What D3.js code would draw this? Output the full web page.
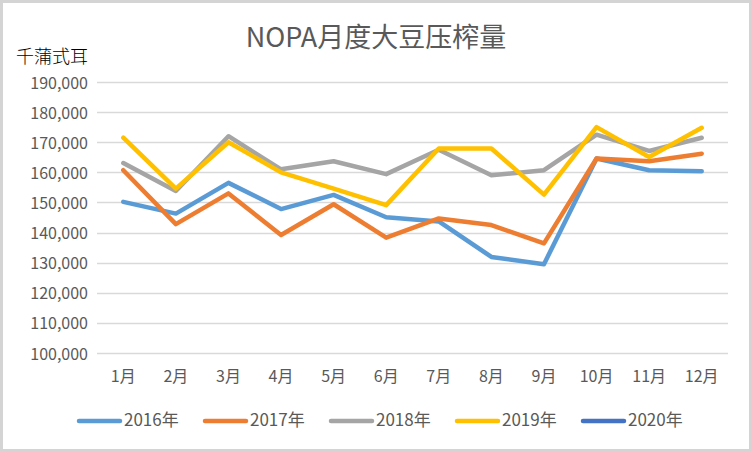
<!DOCTYPE html>
<html><head><meta charset="utf-8">
<script src="https://cdn.jsdelivr.net/npm/d3@7"></script>
<style>html,body{margin:0;padding:0;background:#fff;}svg{display:block;}</style>
</head><body>
<svg id="chart" width="752" height="452"></svg>
<script>
const months = ["1月","2月","3月","4月","5月","6月","7月","8月","9月","10月","11月","12月"];
const seriesNames = ["2016年","2017年","2018年","2019年","2020年"];
const seriesColors = ["#5B9BD5","#ED7D31","#A5A5A5","#FFC000","#4472C4"];
const s2016 = [150200,146300,156500,147800,152500,145100,143700,131900,129500,164600,160700,160400];
const s2017 = [160700,142800,153000,139200,149400,138300,144700,142500,136400,164600,163700,166200];
const s2018 = [163100,153800,172000,161000,163700,159400,167500,159000,160700,172500,167100,171500];
const s2019 = [171500,154600,170000,160000,154600,149100,167900,167900,152600,175000,165100,174800];
const s2020 = [];
const yTicks = [100000,110000,120000,130000,140000,150000,160000,170000,180000,190000];
const title = "NOPA月度大豆压榨量";
const unitLabel = "千蒲式耳";

const allSeries = [s2016,s2017,s2018,s2019,s2020];
const svg = d3.select("#chart");
const font = "'Noto Sans CJK SC','Noto Sans',sans-serif";
const textColor = "#595959";

// frame
svg.append("rect").attr("x",1.5).attr("y",1.5).attr("width",749).attr("height",449)
  .attr("fill","#fff").attr("stroke","#d4d4d4").attr("stroke-width",3);

const pL = 97, pR = 728, pT = 82, pB = 353;
const x = d3.scaleBand().domain(months).range([pL,pR]);
const y = d3.scaleLinear().domain([100000,190000]).range([pB,pT]);

// gridlines
svg.append("g").selectAll("line").data(yTicks).join("line")
  .attr("x1",pL).attr("x2",pR)
  .attr("y1",d=>Math.round(y(d))+0.5).attr("y2",d=>Math.round(y(d))+0.5)
  .attr("stroke","#d9d9d9").attr("stroke-width",1.3);

// y axis labels
const yAxis = d3.axisLeft(y).tickValues(yTicks).tickFormat(d3.format(",")).tickSize(0).tickPadding(9);
const gy = svg.append("g").attr("transform",`translate(${pL},0)`).call(yAxis);
gy.select(".domain").remove();
gy.selectAll("text").attr("font-family",font).attr("font-size",16).attr("fill",textColor)
  .attr("dy","0.38em");

// x axis labels
const xAxis = d3.axisBottom(x).tickSize(0).tickPadding(18);
const gx = svg.append("g").attr("transform",`translate(0,${pB})`).call(xAxis);
gx.select(".domain").remove();
gx.selectAll("text").attr("font-family",font).attr("font-size",16).attr("fill",textColor);

// lines
const line = d3.line().x((d,i)=>x(months[i])+x.bandwidth()/2).y(d=>y(d));
allSeries.forEach((s,k)=>{
  if(!s.length) return;
  svg.append("path").datum(s).attr("d",line).attr("fill","none")
    .attr("stroke",seriesColors[k]).attr("stroke-width",4.5)
    .attr("stroke-linejoin","round").attr("stroke-linecap","round");
});

// title
svg.append("text").attr("x",376).attr("y",47).attr("text-anchor","middle")
  .attr("font-family",font).attr("font-size",27).attr("fill",textColor).text(title);
// unit label
svg.append("text").attr("x",16).attr("y",63)
  .attr("font-family",font).attr("font-size",18).attr("font-weight",300).attr("fill","#000").text(unitLabel);

// legend
const lg = svg.append("g");
seriesNames.forEach((n,k)=>{
  const x0 = 79 + k*126;
  lg.append("line").attr("x1",x0).attr("x2",x0+41).attr("y1",421).attr("y2",421)
    .attr("stroke",seriesColors[k]).attr("stroke-width",4.5).attr("stroke-linecap","round");
  lg.append("text").attr("x",x0+45).attr("y",426).attr("font-family",font)
    .attr("font-size",17).attr("fill",textColor).text(n);
});
</script>
</body></html>
